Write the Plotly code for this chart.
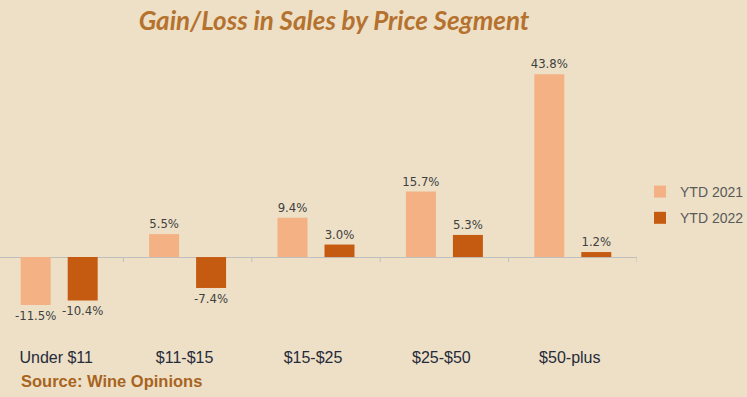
import plotly.graph_objects as go

categories = ["Under $11", "$11-$15", "$15-$25", "$25-$50", "$50-plus"]
ytd_2021 = [-11.5, 5.5, 9.4, 15.7, 43.8]
ytd_2022 = [-10.4, -7.4, 3.0, 5.3, 1.2]
series_names = ["YTD 2021", "YTD 2022"]

BG = "#EDE0C7"
C21 = "#F4B183"
C22 = "#C55A11"
LABEL_FONT = dict(family="DejaVu Sans Condensed, Liberation Sans, Arial",
                  size=13, color="#404040")

fig = go.Figure()
for name, vals, col in [(series_names[0], ytd_2021, C21), (series_names[1], ytd_2022, C22)]:
    fig.add_trace(go.Bar(
        x=categories, y=vals, name=name, legendgroup=name,
        marker=dict(color=col, line=dict(width=0)),
        text=[f"{v:.1f}%" for v in vals],
        textposition="outside",
        constraintext="none",
        textfont=LABEL_FONT,
        cliponaxis=False,
    ))

# small tick marks on the zero line at category boundaries
for i in range(len(categories)):
    fig.add_shape(type="line", xref="x", yref="y", x0=i + 0.5, x1=i + 0.5,
                  ysizemode="pixel", yanchor=0, y0=0, y1=-5,
                  line=dict(color="#BFBFBF", width=1))

fig.update_layout(
    width=747, height=397,
    paper_bgcolor=BG, plot_bgcolor=BG,
    margin=dict(l=0, r=110, t=55, b=51, autoexpand=False),
    barmode="group", bargap=0.268, bargroupgap=0.362,
    title=dict(text="<b><i>Gain/Loss in Sales by Price Segment</i></b>",
               x=334 / 747, xanchor="center", y=1 - 21 / 397, yanchor="middle",
               font=dict(family="Lato, Open Sans", size=26, color="#B5722E")),
    legend=dict(x=1 + 3 / 637, y=1 - (176 - 55) / 291, xanchor="left", yanchor="top",
                font=dict(family="Liberation Sans, Arial", size=14, color="#595959"),
                bgcolor="rgba(0,0,0,0)", itemwidth=30, tracegroupgap=5),
    showlegend=True,
    xaxis=dict(range=[-0.461, 4.5], showgrid=False, showline=False, ticks="",
               tickfont=dict(family="Liberation Sans, Arial", size=16, color="#262B3A"),
               ticklabelshift=-3, fixedrange=True, automargin=False),
    yaxis=dict(range=[-21.3, 48.4], showgrid=False, showticklabels=False, automargin=False,
               zeroline=True, zerolinecolor="#BFBFBF", zerolinewidth=1, showline=False,
               fixedrange=True),
    annotations=[dict(text="<b>Source: Wine Opinions</b>", xref="paper", yref="paper",
                      x=19 / 637, y=-(381 - 346) / 291, xanchor="left", yanchor="middle",
                      showarrow=False,
                      font=dict(family="Liberation Sans, Arial", size=16.5, color="#A8641E"))],
)

fig.write_html("out.html", config={"displayModeBar": False},
               post_script="document.body.style.margin='0';document.body.style.padding='0';")
